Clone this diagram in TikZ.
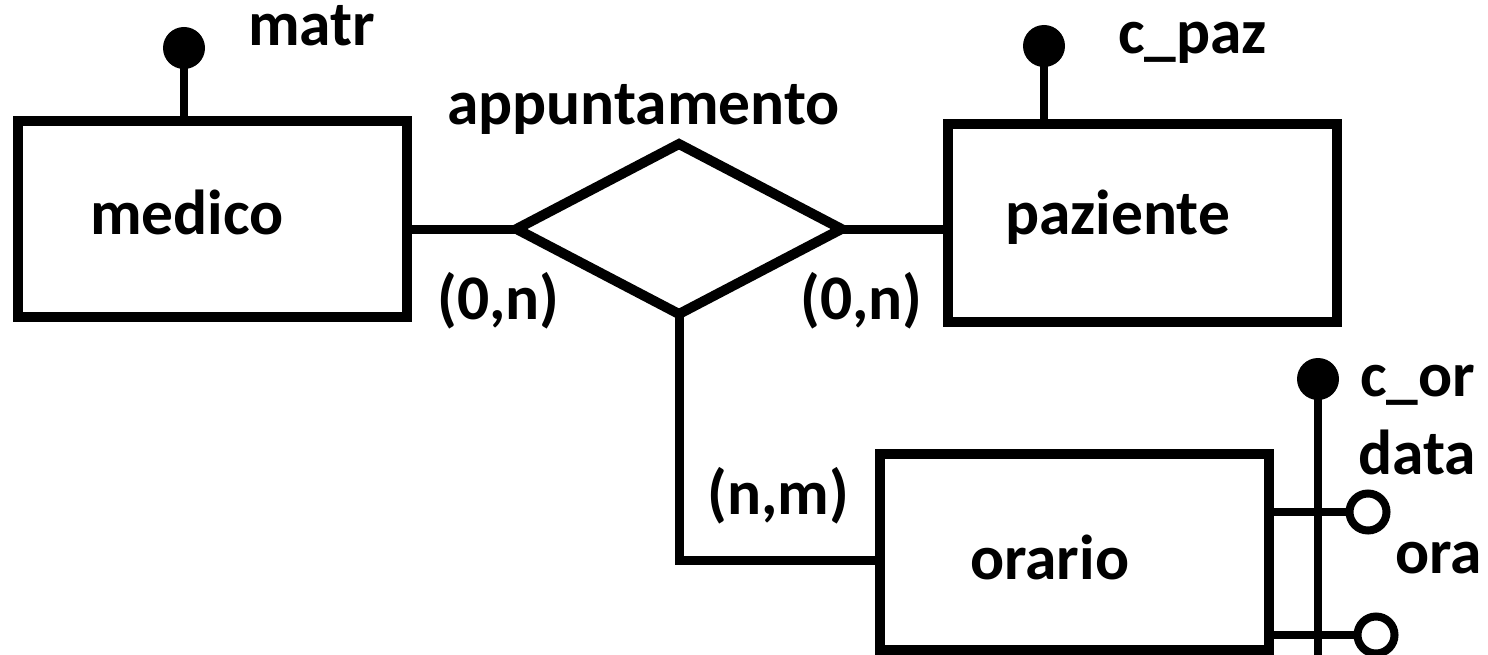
\documentclass[tikz,border=0pt]{standalone}
\usepackage{fontspec}
\setmainfont{Carlito}
\usetikzlibrary{shapes.geometric}
\tikzset{
  entity/.style={draw, line width=10pt, rectangle, inner sep=0pt, outer sep=0pt, minimum width=389pt},
  rel/.style={draw, line width=10pt, diamond, inner sep=0pt, outer sep=0pt, line join=miter},
  lbl/.style={anchor=base west, inner sep=0pt, font=\fontsize{63.5}{63.5}\selectfont\bfseries},
  conn/.style={line width=9pt},
  stem/.style={line width=8pt},
  keydot/.style={circle, fill=black, inner sep=0pt, outer sep=0pt, minimum size=42pt},
  attrdot/.style={circle, draw, line width=8pt, fill=white, inner sep=0pt, outer sep=0pt, minimum size=37pt},
}
\begin{document}
\begin{tikzpicture}[x=1pt,y=-1pt]
\useasboundingbox (0,0) rectangle (1488,655);
% entities
\node[entity, minimum height=196pt] (medico) at (212.5,219) {};
\node[entity, minimum height=198pt] (paziente) at (1142.5,223) {};
\node[entity, minimum height=196pt] (orario) at (1074.5,552) {};
% relationship
\node[rel, minimum width=325pt, minimum height=170pt] (appunt) at (679,229) {};
% connectors
\draw[conn] (medico.east |- appunt.west) -- (appunt.west);
\draw[conn] (appunt.east) -- (paziente.west |- appunt.east);
\draw[conn, line join=miter] (appunt.south) |- ([yshift=-8pt]orario.west);
% keys
\node[keydot] (kmatr) at (184,48) {};
\draw[stem] (kmatr.center) -- (kmatr.center |- medico.north);
\node[keydot] (kpaz) at (1044,46) {};
\draw[stem] (kpaz.center) -- (kpaz.center |- paziente.north);
\node[keydot] (kor) at (1318,379) {};
\coordinate (korend) at (1318,660);
\node[attrdot] (adata) at (1368,512) {};
\node[attrdot] (aora) at (1376,635) {};
\draw[stem] (orario.east |- adata) -- (adata.west);
\draw[stem] (orario.east |- aora) -- (aora.west);
\draw[stem] (kor.center) -- (korend);
% labels
\node[lbl] (tmatr) at (248,46) {matr};
\node[lbl] (tappunt) at (447,125) {appuntamento};
\node[lbl] (tmedico) at (90,234) {medico};
\node[lbl] (tpaziente) at (1005,234) {paziente};
\node[lbl] (tcpaz) at (1118,54) {c\_paz};
\node[lbl] (tcard1) at (437,319) {(0,n)};
\node[lbl] (tcard2) at (800,319) {(0,n)};
\node[lbl] (tcard3) at (707,514) {(n,m)};
\node[lbl] (torario) at (970,579) {orario};
\node[lbl] (tcor) at (1360,396) {c\_or};
\node[lbl] (tdata) at (1358,474) {data};
\node[lbl] (tora) at (1395,573) {ora};
\end{tikzpicture}
\end{document}
